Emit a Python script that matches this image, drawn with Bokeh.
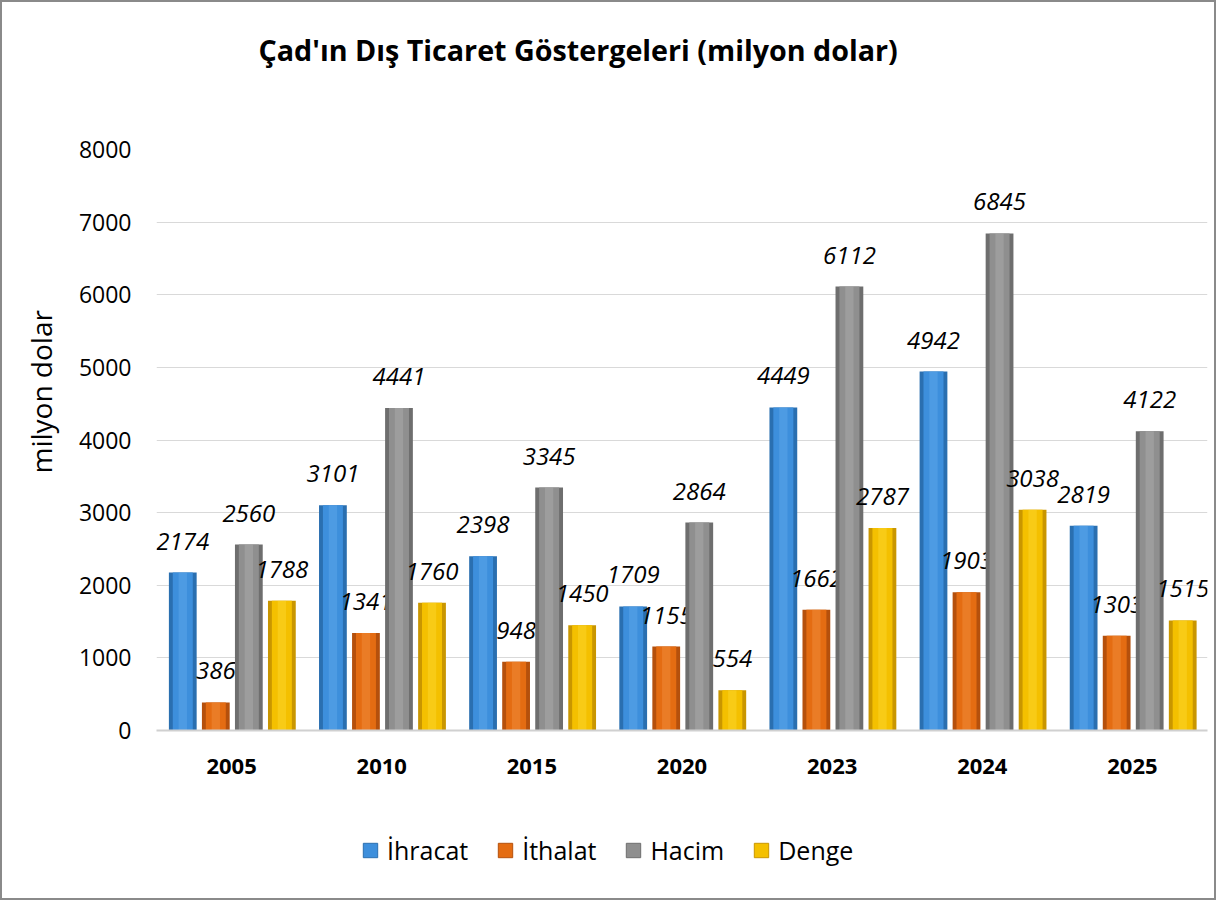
from bokeh.plotting import figure
from bokeh.layouts import column
from bokeh.models import FactorRange, Legend, LegendItem, ColumnDataSource, Title
from bokeh.transform import dodge
from bokeh.core.properties import value
from bokeh.embed import file_html
from bokeh.resources import INLINE

years = ["2005", "2010", "2015", "2020", "2023", "2024", "2025"]
ihracat = [2174, 3101, 2398, 1709, 4449, 4942, 2819]
ithalat = [386, 1341, 948, 1155, 1662, 1903, 1303]
hacim = [2560, 4441, 3345, 2864, 6112, 6845, 4122]
denge = [1788, 1760, 1450, 554, 2787, 3038, 1515]
series_names = ["İhracat", "İthalat", "Hacim", "Denge"]
y_ticks = [0, 1000, 2000, 3000, 4000, 5000, 6000, 7000, 8000]

FONT = "Open Sans"
FW, FH = 1051, 581

p = figure(x_range=FactorRange(*years), y_range=(0, 8000),
           frame_width=FW, frame_height=FH,
           output_backend="svg", toolbar_location=None,
           min_border_left=154, min_border_right=7, min_border_top=147, min_border_bottom=70)
p.outline_line_color = None
p.background_fill_color = "white"
p.border_fill_color = "white"

spacer = Title(text=" ", text_font_size="71px", standoff=0)
p.add_layout(spacer, "above")
title = Title(text="Çad'ın Dış Ticaret Göstergeleri (milyon dolar)", align="left", offset=102,
              text_font=FONT, text_font_size="28.7px", text_font_style="bold", text_color="black",
              standoff=0)
p.add_layout(title, "above")

ylab = Title(text="milyon dolar", align="left", offset=257, text_font=FONT, text_font_size="28px",
             text_font_style="normal", text_color="black", standoff=31)
p.add_layout(ylab, "left")

src = ColumnDataSource(dict(years=years, ihracat=ihracat, ithalat=ithalat, hacim=hacim, denge=denge,
                            l_ihracat=[str(v) for v in ihracat], l_ithalat=[str(v) for v in ithalat],
                            l_hacim=[str(v) for v in hacim], l_denge=[str(v) for v in denge]))

keys = ["ihracat", "ithalat", "hacim", "denge"]
offsets = [-0.325, -0.105, 0.115, 0.335]
palettes = [
    ("#2a6fb0", "#3d8fdc", "#6cb2f0"),
    ("#b5500c", "#e46c12", "#f59a4e"),
    ("#6e6e6e", "#8f8f8f", "#b8b8b8"),
    ("#c99600", "#f4c000", "#ffe040"),
]
W = 0.185

# legend strip below the chart (its own glyphs lie outside its visible range)
p2 = figure(x_range=FactorRange(*years), y_range=(10000, 20000), width=1212, height=98,
            output_backend="svg", toolbar_location=None,
            min_border_left=0, min_border_right=0, min_border_top=0, min_border_bottom=0)
p2.axis.visible = False
p2.grid.visible = False
p2.outline_line_color = None
p2.background_fill_color = "white"
p2.border_fill_color = "white"

items = []
for key, off, (dark, base, light), name in zip(keys, offsets, palettes, series_names):
    xd = dodge("years", off, range=p.x_range)
    p.vbar(x=xd, top=key, width=W, source=src, fill_color=dark, line_color=None)
    p.vbar(x=xd, top=key, width=W * 0.72, source=src, fill_color=base, line_color=None)
    p.vbar(x=xd, top=key, width=W * 0.3, source=src, fill_color=light, fill_alpha=0.35, line_color=None)
    p.text(x=xd, y=key, text="l_" + key, source=src, text_align="center", text_baseline="bottom",
           y_offset=-23, text_font=value(FONT), text_font_style="italic", text_font_size="24px",
           text_color="black")
    rl = p2.vbar(x=dodge("years", off, range=p2.x_range), top=key, width=W, source=src,
                 fill_color=base, line_color=dark, line_width=1)
    items.append(LegendItem(label=name, renderers=[rl]))

p.xgrid.grid_line_color = None
p.ygrid.grid_line_color = "#d9d9d9"
p.ygrid.grid_line_width = 1
p.yaxis.ticker = y_ticks
p.yaxis.axis_line_color = None
p.yaxis.major_tick_line_color = None
p.yaxis.minor_tick_line_color = None
p.yaxis.major_label_text_font = FONT
p.yaxis.major_label_text_font_size = "23px"
p.yaxis.major_label_text_color = "black"
p.yaxis.major_label_standoff = 19

p.xaxis.axis_line_color = "#d0d0d0"
p.xaxis.axis_line_width = 2
p.xaxis.major_tick_line_color = None
p.xaxis.minor_tick_line_color = None
p.xaxis.major_label_text_font = FONT
p.xaxis.major_label_text_font_size = "22px"
p.xaxis.major_label_text_font_style = "bold"
p.xaxis.major_label_text_color = "black"
p.xaxis.major_label_standoff = 22

legend = Legend(items=items, orientation="horizontal", location=(205, 31),
                label_text_font=FONT, label_text_font_size="25px", label_text_color="black",
                glyph_width=18, glyph_height=18, spacing=28, label_standoff=8,
                border_line_color=None, background_fill_alpha=0, margin=0, padding=0)
p2.add_layout(legend)

lay = column(p, p2, spacing=0)
lay.styles = {"border": "2px solid #8a8a8a", "background-color": "white"}

open("out.html", "w").write(file_html(lay, INLINE))
